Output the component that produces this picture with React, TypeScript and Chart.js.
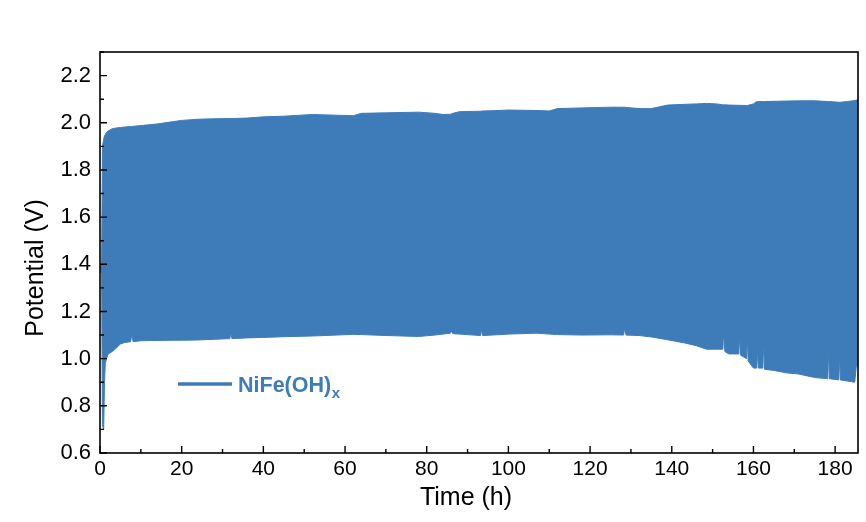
import React, { useEffect, useRef } from 'react';
import { Chart, registerables } from 'chart.js';

Chart.register(...registerables);

// Time (h) sampled along the envelopes of the charge/discharge band
const timeH = [
  0, 0.4, 0.6, 0.9, 1.1, 1.3, 1.6, 2, 3, 4,
  5, 6, 7.5, 7.8, 8.1, 10, 14, 18, 20, 24,
  28, 31.8, 32, 32.3, 36, 40, 45, 52, 58, 62,
  64, 70, 78, 82, 84, 85.8, 86.1, 86.4, 88, 93.2,
  93.4, 93.7, 96, 100, 107, 110, 112, 118, 125, 128.2,
  128.5, 128.8, 132, 135, 139, 143, 146, 148.5, 151, 152.5,
  152.7, 153, 154, 156.4, 156.6, 156.8, 158.3, 158.5, 158.7, 160,
  160.8, 161, 161.2, 162.3, 162.5, 162.7, 165, 168, 171, 175,
  178.2, 178.4, 178.6, 180.9, 181.1, 181.3, 183, 184.8, 185.2, 185.6,
];

// Upper envelope of potential (V)
const upperV = [
  1.38, 1.40, 1.90, 1.93, 1.945, 1.95, 1.96, 1.965, 1.975, 1.978,
  1.98, 1.982, 1.984, 1.984, 1.985, 1.988, 1.995, 2.005, 2.01, 2.015,
  2.017, 2.018, 2.018, 2.018, 2.02, 2.025, 2.028, 2.035, 2.032, 2.03,
  2.04, 2.042, 2.045, 2.04, 2.035, 2.036, 2.038, 2.04, 2.047, 2.049,
  2.05, 2.05, 2.051, 2.054, 2.052, 2.05, 2.06, 2.063, 2.066, 2.066,
  2.066, 2.065, 2.06, 2.06, 2.075, 2.078, 2.08, 2.082, 2.08, 2.076,
  2.076, 2.076, 2.075, 2.074, 2.074, 2.074, 2.073, 2.073, 2.074, 2.08,
  2.09, 2.09, 2.09, 2.09, 2.09, 2.09, 2.091, 2.092, 2.093, 2.093,
  2.09, 2.09, 2.09, 2.087, 2.087, 2.087, 2.09, 2.094, 2.096, 2.096,
];

// Lower envelope of potential (V)
const lowerV = [
  1.37, 1.36, 0.72, 0.70, 0.90, 0.98, 1.00, 1.02, 1.03, 1.045,
  1.062, 1.068, 1.072, 1.105, 1.072, 1.076, 1.077, 1.078, 1.078, 1.079,
  1.082, 1.085, 1.11, 1.085, 1.088, 1.09, 1.093, 1.096, 1.10, 1.103,
  1.102, 1.098, 1.094, 1.10, 1.104, 1.108, 1.118, 1.106, 1.104, 1.098,
  1.122, 1.098, 1.10, 1.104, 1.108, 1.104, 1.102, 1.10, 1.101, 1.10,
  1.13, 1.10, 1.098, 1.092, 1.08, 1.067, 1.055, 1.04, 1.04, 1.04,
  1.11, 1.03, 1.02, 1.02, 1.10, 1.015, 1.0, 1.094, 0.99, 0.96,
  0.96, 1.037, 0.96, 0.96, 1.075, 0.955, 0.95, 0.94, 0.935, 0.92,
  0.915, 1.04, 0.915, 0.91, 1.01, 0.91, 0.905, 0.90, 0.97, 0.97,
];

const xMajorTicks = [0, 20, 40, 60, 80, 100, 120, 140, 160, 180];
const xMinorTicks = [10, 30, 50, 70, 90, 110, 130, 150, 170];
const yMajorTicks = [0.6, 0.8, 1.0, 1.2, 1.4, 1.6, 1.8, 2.0, 2.2];
const yMinorTicks = [0.7, 0.9, 1.1, 1.3, 1.5, 1.7, 1.9, 2.1, 2.3];

const seriesName = 'NiFe(OH)';
const seriesSub = 'x';
const xTitle = 'Time (h)';
const yTitle = 'Potential (V)';

const BLUE = '#3E7CB9';
const FONT = "'Liberation Sans', Arial, sans-serif";

const framePlugin = {
  id: 'frameTicksLegend',
  afterDatasetsDraw(chart: any) {
    const { ctx, chartArea, scales } = chart;
    const { left, right, top, bottom } = chartArea;
    const xs = scales.x;
    const ys = scales.y;
    ctx.save();
    ctx.strokeStyle = '#000';
    ctx.lineWidth = 1.6;
    ctx.strokeRect(left, top, right - left, bottom - top);
    ctx.lineWidth = 1.4;
    ctx.beginPath();
    xMajorTicks.forEach((v) => {
      const px = xs.getPixelForValue(v);
      ctx.moveTo(px, bottom);
      ctx.lineTo(px, bottom - 7);
    });
    xMinorTicks.forEach((v) => {
      const px = xs.getPixelForValue(v);
      ctx.moveTo(px, bottom);
      ctx.lineTo(px, bottom - 4);
    });
    yMajorTicks.forEach((v) => {
      const py = ys.getPixelForValue(v);
      ctx.moveTo(left, py);
      ctx.lineTo(left + 7, py);
    });
    yMinorTicks.forEach((v) => {
      const py = ys.getPixelForValue(v);
      ctx.moveTo(left, py);
      ctx.lineTo(left + 4, py);
    });
    ctx.stroke();

    // axis titles
    ctx.fillStyle = '#000';
    ctx.font = `25px ${FONT}`;
    ctx.textAlign = 'center';
    ctx.textBaseline = 'middle';
    ctx.fillText(xTitle, 466, 498);
    ctx.save();
    ctx.translate(36, 268);
    ctx.rotate(-Math.PI / 2);
    ctx.fillText(yTitle, 0, 0);
    ctx.restore();

    // legend
    ctx.strokeStyle = BLUE;
    ctx.lineWidth = 3.5;
    ctx.beginPath();
    ctx.moveTo(178, 384);
    ctx.lineTo(232, 384);
    ctx.stroke();
    ctx.fillStyle = BLUE;
    ctx.textBaseline = 'alphabetic';
    ctx.textAlign = 'left';
    ctx.font = `bold 21.5px ${FONT}`;
    ctx.fillText(seriesName, 238, 392);
    const w = ctx.measureText(seriesName).width;
    ctx.font = `bold 15px ${FONT}`;
    ctx.fillText(seriesSub, 238 + w + 0.5, 398);
    ctx.restore();
  },
};

export default function App() {
  const ref = useRef<HTMLCanvasElement>(null);

  useEffect(() => {
    if (!ref.current) return;
    const chart = new Chart(ref.current, {
      type: 'line',
      data: {
        labels: timeH,
        datasets: [
          {
            label: seriesName + seriesSub,
            data: timeH.map((t, i) => ({ x: t, y: upperV[i] })),
            borderColor: BLUE,
            backgroundColor: BLUE,
            borderWidth: 1,
            pointRadius: 0,
            fill: '+1',
            tension: 0,
          },
          {
            label: 'lower',
            data: timeH.map((t, i) => ({ x: t, y: lowerV[i] })),
            borderColor: BLUE,
            backgroundColor: BLUE,
            borderWidth: 1,
            pointRadius: 0,
            fill: false,
            tension: 0,
          },
        ],
      },
      options: {
        animation: false,
        responsive: false,
        devicePixelRatio: 1,
        layout: { padding: { left: 0, top: 52, right: 8, bottom: 0 } },
        plugins: { legend: { display: false }, tooltip: { enabled: false } },
        scales: {
          x: {
            type: 'linear',
            min: 0,
            max: 185.6,
            grid: { display: false, drawTicks: false },
            border: { display: false },
            afterBuildTicks: (s: any) => {
              s.ticks = xMajorTicks.map((v) => ({ value: v }));
            },
            afterFit: (s: any) => {
              s.height = 69;
            },
            ticks: {
              color: '#000',
              padding: 4,
              maxRotation: 0,
              autoSkip: false,
              font: { family: FONT, size: 21 },
              callback: (v: any) => String(v),
            },
          },
          y: {
            type: 'linear',
            min: 0.6,
            max: 2.3,
            grid: { display: false, drawTicks: false },
            border: { display: false },
            afterBuildTicks: (s: any) => {
              s.ticks = yMajorTicks.map((v) => ({ value: v }));
            },
            afterFit: (s: any) => {
              s.width = 100;
            },
            ticks: {
              color: '#000',
              padding: 9,
              autoSkip: false,
              font: { family: FONT, size: 22 },
              callback: (v: any) => Number(v).toFixed(1),
            },
          },
        },
      },
      plugins: [framePlugin],
    });
    return () => chart.destroy();
  }, []);

  return (
    <div style={{ position: 'absolute', left: 0, top: 0, width: 866, height: 522, background: '#fff' }}>
      <canvas ref={ref} width={866} height={522} style={{ display: 'block' }} />
    </div>
  );
}
